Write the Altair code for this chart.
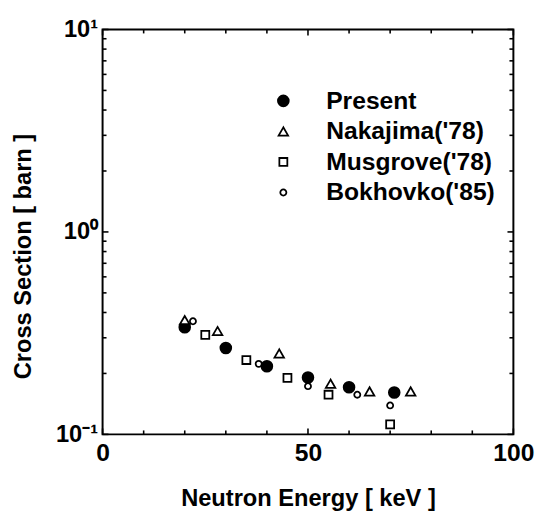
import altair as alt
import pandas as pd

series_names = ["Present", "Nakajima('78)", "Musgrove('78)", "Bokhovko('85)"]

present_x = [20, 30, 40, 50, 60, 71]
present_y = [0.338, 0.267, 0.217, 0.191, 0.171, 0.161]
nakajima_x = [20, 28, 43, 55.5, 65, 75]
nakajima_y = [0.367, 0.324, 0.251, 0.178, 0.163, 0.163]
musgrove_x = [25, 35, 45, 55, 70]
musgrove_y = [0.310, 0.233, 0.190, 0.157, 0.112]
bokhovko_x = [22, 38, 50, 62, 70]
bokhovko_y = [0.362, 0.223, 0.173, 0.157, 0.139]

x_major = [0, 50, 100]
x_minor = [10, 20, 30, 40, 60, 70, 80, 90]
y_major = [0.1, 1, 10]
y_minor = [0.2, 0.3, 0.4, 0.5, 0.6, 0.7, 0.8, 0.9, 2, 3, 4, 5, 6, 7, 8, 9]

rows = []
for name, xs, ys in zip(series_names,
                        [present_x, nakajima_x, musgrove_x, bokhovko_x],
                        [present_y, nakajima_y, musgrove_y, bokhovko_y]):
    for xv, yv in zip(xs, ys):
        rows.append({"series": name, "energy": xv, "xs": yv})
df = pd.DataFrame(rows)

W, H = 417, 411
FONT = "Liberation Sans"
xscale = alt.Scale(domain=[0, 100], nice=False, zero=False)
yscale = alt.Scale(type="log", domain=[0.1, 10], nice=False)

MAJ = 6
MIN = 4
TW = 1.6

x_axis = alt.Axis(values=x_major, ticks=False, domain=False, grid=False,
                  labelFont=FONT, labelFontSize=25, labelFontWeight="bold",
                  labelColor="black", labelPadding=7, labelFlush=False,
                  title="Neutron Energy [ keV ]", titleFont=FONT,
                  titleFontSize=24, titleFontWeight="bold",
                  titleColor="black", titlePadding=21)
y_axis = alt.Axis(values=y_major, ticks=False, domain=False, grid=False,
                  labelFont=FONT, labelFontSize=24, labelFontWeight="bold",
                  labelColor="black", labelPadding=5, labelFlush=False,
                  labelExpr="datum.value == 10 ? '10\u00b9' : (datum.value == 1 ? '10\u2070' : '10\u207b\u00b9')",
                  title="Cross Section [ barn ]", titleFont=FONT,
                  titleFontSize=24, titleFontWeight="bold",
                  titleColor="black", titlePadding=20, titleY=230)

legend = alt.Legend(title=None, orient="none", legendX=171, legendY=60,
                    labelFont=FONT, labelFontSize=25, labelFontWeight="bold",
                    labelColor="black", labelOffset=31, labelLimit=0,
                    rowPadding=5, padding=0, symbolStrokeWidth=1.8)

points = alt.Chart(df).mark_point(filled=True, strokeWidth=1.8, opacity=1).encode(
    x=alt.X("energy:Q", scale=xscale, axis=x_axis),
    y=alt.Y("xs:Q", scale=yscale, axis=y_axis),
    shape=alt.Shape("series:N", scale=alt.Scale(
        domain=series_names,
        range=["circle", "triangle-up", "square", "circle"]), legend=legend),
    fill=alt.Fill("series:N", scale=alt.Scale(
        domain=series_names, range=["black", "white", "white", "white"]),
        legend=legend),
    stroke=alt.Stroke("series:N", scale=alt.Scale(
        domain=series_names, range=["black", "black", "black", "black"]),
        legend=legend),
    size=alt.Size("series:N", scale=alt.Scale(
        domain=series_names, range=[120, 38, 34, 32]), legend=legend),
)


def xticks(values, length, top):
    d = pd.DataFrame({"energy": values})
    if top:
        yv, y2v = alt.value(0), alt.value(length)
    else:
        yv, y2v = alt.value(H), alt.value(H - length)
    return alt.Chart(d).mark_rule(
        color="black", strokeWidth=TW, orient="vertical").encode(
        x=alt.X("energy:Q", scale=xscale, axis=None), y=yv, y2=y2v)


def yticks(values, length, right):
    d = pd.DataFrame({"xs": values})
    if right:
        xv, x2v = alt.value(W), alt.value(W - length)
    else:
        xv, x2v = alt.value(0), alt.value(length)
    return alt.Chart(d).mark_rule(
        color="black", strokeWidth=TW, orient="horizontal").encode(
        y=alt.Y("xs:Q", scale=yscale, axis=None), x=xv, x2=x2v)


tick_layers = [
    xticks(x_major, MAJ, False), xticks(x_minor, MIN, False),
    xticks(x_major, MAJ, True), xticks(x_minor, MIN, True),
    yticks(y_major, MAJ, False), yticks(y_minor, MIN, False),
    yticks(y_major, MAJ, True), yticks(y_minor, MIN, True),
]

chart = alt.layer(*tick_layers, points).resolve_axis(
    x="independent", y="independent"
).properties(
    width=W, height=H,
    autosize=alt.AutoSizeParams(type="none"),
    padding={"left": 96, "top": 18, "right": 26, "bottom": 76},
    background="white",
).configure_view(stroke="black", strokeWidth=2)

chart.save("out.html", embed_options={"renderer": "svg", "actions": False})
